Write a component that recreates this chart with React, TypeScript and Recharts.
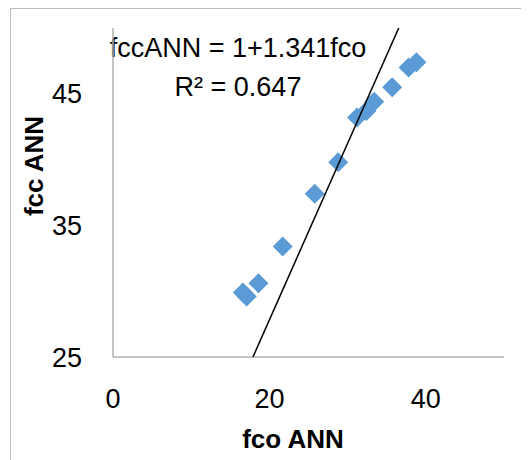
import React from 'react';
import { ScatterChart, Scatter, XAxis, YAxis, Customized } from 'recharts';

const fcoValues = [38.8, 37.8, 35.7, 33.4, 32.4, 31.2, 28.8, 25.8, 21.7, 18.6, 17.1, 16.6];
const fccValues = [47.4, 47.0, 45.5, 44.4, 43.7, 43.2, 39.8, 37.4, 33.4, 30.6, 29.6, 29.9];
const xTicks = [0, 20, 40];
const yTicks = [25, 35, 45];
const trendIntercept = 1;
const trendSlope = 1.341;
const trendXEnds = [17.897, 36.54];
const equationText = 'fccANN = 1+1.341fco';
const r2Text = 'R² = 0.647';

const points = fcoValues.map((x, i) => ({ x, y: fccValues[i] }));
const trend = trendXEnds.map((x) => ({ x, y: trendIntercept + trendSlope * x }));

const FONT = '"Liberation Sans", Arial, sans-serif';

const Diamond = (props: any) => {
  const { cx, cy } = props;
  const r = 10;
  return (
    <path
      d={`M${cx},${cy - r}L${cx + r},${cy}L${cx},${cy + r}L${cx - r},${cy}Z`}
      fill="#5B9BD5"
    />
  );
};

const NoShape = () => null;

const Annotations = () => (
  <g fontFamily={FONT} fill="#000">
    <text x={230} y={49} textAnchor="middle" fontSize={27}>{equationText}</text>
    <text x={230} y={88} textAnchor="middle" fontSize={27}>{r2Text}</text>
    <text
      transform="translate(35,158) rotate(-90)"
      textAnchor="middle"
      fontSize={26}
      fontWeight="bold"
    >
      fcc ANN
    </text>
    <text x={285} y={440} textAnchor="middle" fontSize={26} fontWeight="bold">
      fco ANN
    </text>
  </g>
);

export default function App() {
  return (
    <div style={{ position: 'relative', width: 521, height: 452 }}>
      <div
        style={{
          position: 'absolute',
          left: 2,
          top: 0,
          width: 540,
          height: 470,
          borderLeft: '1.5px solid #bcbcbc',
          borderTop: '1.5px solid #bcbcbc',
          boxSizing: 'border-box',
        }}
      />
      <div style={{ position: 'absolute', left: 0, top: 0 }}>
        <ScatterChart
          width={521}
          height={452}
          margin={{ top: 20, right: 25, left: 0, bottom: 0 }}
        >
          <XAxis
            type="number"
            dataKey="x"
            domain={[0, 50]}
            ticks={xTicks}
            height={103}
            tickLine={false}
            tickMargin={26}
            axisLine={{ stroke: '#b0b0b0', strokeWidth: 1.5 }}
            tick={{ fill: '#000', fontSize: 27, fontFamily: FONT }}
            allowDataOverflow
          />
          <YAxis
            type="number"
            dataKey="y"
            domain={[25, 50]}
            ticks={yTicks}
            width={105}
            tickLine={false}
            tickMargin={25}
            axisLine={{ stroke: '#b0b0b0', strokeWidth: 1.5 }}
            tick={{ fill: '#000', fontSize: 27, fontFamily: FONT }}
            allowDataOverflow
          />
          <Scatter data={points} shape={Diamond} isAnimationActive={false} />
          <Scatter
            data={trend}
            line={{ stroke: '#000', strokeWidth: 1.5 }}
            shape={NoShape}
            isAnimationActive={false}
          />
          <Customized component={Annotations} />
        </ScatterChart>
      </div>
    </div>
  );
}
